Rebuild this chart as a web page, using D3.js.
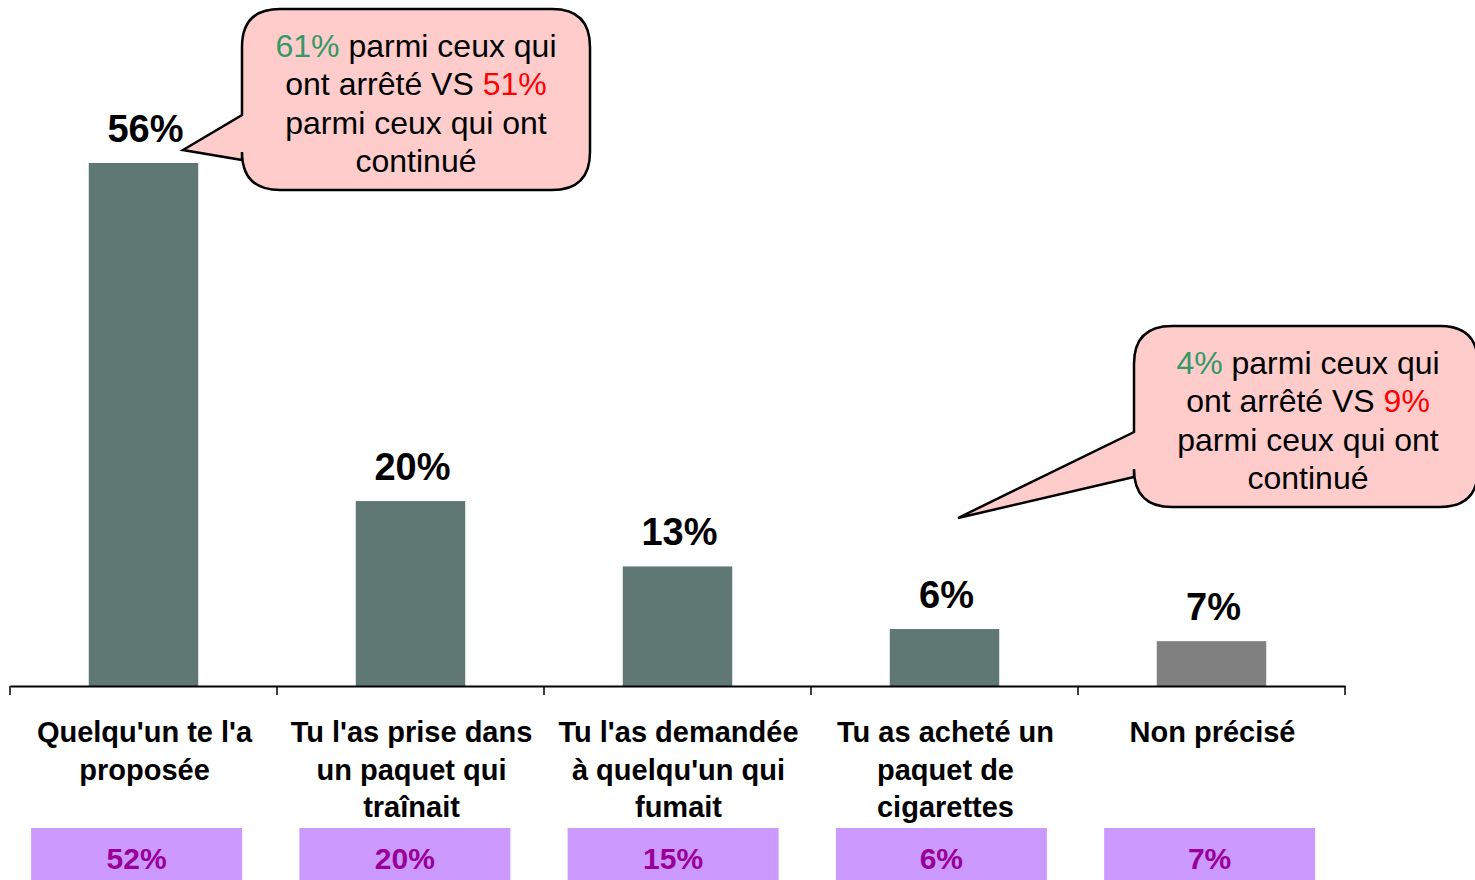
<!DOCTYPE html>
<html>
<head>
<meta charset="utf-8">
<script src="https://cdn.jsdelivr.net/npm/d3@7"></script>
<style>
  body { margin: 0; background: #fff; }
  svg { display: block; font-family: "Liberation Sans", Arial, sans-serif; }
</style>
</head>
<body>
<div id="chart"></div>
<script>
/*------Data------*/
var categories = [
  ["Quelqu'un te l'a", "proposée"],
  ["Tu l'as prise dans", "un paquet qui", "traînait"],
  ["Tu l'as demandée", "à quelqu'un qui", "fumait"],
  ["Tu as acheté un", "paquet de", "cigarettes"],
  ["Non précisé"]
];
// bar heights as drawn in the picture
var values = [56, 19.8, 12.8, 6.1, 4.8];
var valueLabels = ["56%", "20%", "13%", "6%", "7%"];
var boxLabels = ["52%", "20%", "15%", "6%", "7%"];
var barColors = ["#607874", "#607874", "#607874", "#607874", "#808080"];

var callouts = [
  { lines: [[["61%", "#339966"], [" parmi ceux qui", "#000"]],
            [["ont arrêté VS ", "#000"], ["51%", "#ff0000"]],
            [["parmi ceux qui ont", "#000"]],
            [["continué", "#000"]]] },
  { lines: [[["4%", "#339966"], [" parmi ceux qui", "#000"]],
            [["ont arrêté VS ", "#000"], ["9%", "#ff0000"]],
            [["parmi ceux qui ont", "#000"]],
            [["continué", "#000"]]] }
];

var width = 1475, height = 880;
var svg = d3.select("#chart").append("svg")
    .attr("width", width)
    .attr("height", height);

/*------Scales------*/
var x = d3.scaleBand()
    .domain(d3.range(categories.length))
    .range([10, 1345]);

// the purple boxes sit on a slightly different grid
var xBox = d3.scaleBand()
    .domain(d3.range(categories.length))
    .range([2.5, 1343.75]);

var y = d3.scaleLinear()
    .domain([0, 60])
    .range([686, 686 - 60 * 9.34]);

/*------Bars------*/
var barW = x.bandwidth() * 0.41;

svg.selectAll("rect.bar")
  .data(values)
  .enter()
  .append("rect")
    .attr("class", "bar")
    .attr("x", function(d, i) { return x(i) + x.bandwidth() / 2 - barW / 2; })
    .attr("y", function(d) { return y(d); })
    .attr("width", barW)
    .attr("height", function(d) { return y(0) - y(d); })
    .attr("fill", function(d, i) { return barColors[i]; });

svg.selectAll("text.val")
  .data(values)
  .enter()
  .append("text")
    .attr("class", "val")
    .attr("x", function(d, i) { return x(i) + x.bandwidth() / 2 + 2; })
    .attr("y", function(d) { return y(d) - 21; })
    .attr("text-anchor", "middle")
    .style("font-size", "38px")
    .style("font-weight", "bold")
    .text(function(d, i) { return valueLabels[i]; });

/*------Axis------*/
var axis = d3.axisBottom(x).tickSize(0).tickFormat("");
var gx = svg.append("g")
    .attr("transform", "translate(0," + y(0) + ")")
    .call(axis);
gx.select(".domain").attr("stroke", "#000").attr("stroke-width", 2);

var tickPos = d3.range(categories.length).map(function(i) { return x(i); }).concat([x.range()[1]]);
svg.selectAll("line.tick")
  .data(tickPos)
  .enter()
  .append("line")
    .attr("x1", function(d) { return d; })
    .attr("x2", function(d) { return d; })
    .attr("y1", y(0))
    .attr("y2", y(0) + 9)
    .attr("stroke", "#000")
    .attr("stroke-width", 1.5);

/*------Category labels------*/
var catText = svg.selectAll("text.cat")
  .data(categories)
  .enter()
  .append("text")
    .attr("class", "cat")
    .attr("text-anchor", "middle")
    .style("font-size", "29px")
    .style("font-weight", "bold");

catText.each(function(lines, i) {
  var t = d3.select(this);
  lines.forEach(function(l, j) {
    t.append("tspan")
      .attr("x", x(i) + x.bandwidth() / 2 + 1)
      .attr("y", 742 + j * 37.5)
      .text(l);
  });
});

/*------Bottom purple boxes------*/
svg.selectAll("rect.box")
  .data(boxLabels)
  .enter()
  .append("rect")
    .attr("class", "box")
    .attr("x", function(d, i) { return xBox(i) + xBox.bandwidth() / 2 - 105.5; })
    .attr("y", 828)
    .attr("width", 211)
    .attr("height", 60)
    .attr("fill", "#cc99ff");

svg.selectAll("text.box")
  .data(boxLabels)
  .enter()
  .append("text")
    .attr("class", "box")
    .attr("x", function(d, i) { return xBox(i) + xBox.bandwidth() / 2; })
    .attr("y", 869)
    .attr("text-anchor", "middle")
    .attr("fill", "#990099")
    .style("font-size", "30px")
    .style("font-weight", "bold")
    .text(function(d) { return d; });

/*------Callouts------*/
function calloutPath(x0, y0, x1, y1, r, ya, yb, tx, ty) {
  // rounded rectangle with a wedge leaving the left edge
  var p = d3.path();
  p.moveTo(x0 + r, y0);
  p.lineTo(x1 - r, y0);
  p.quadraticCurveTo(x1, y0, x1, y0 + r);
  p.lineTo(x1, y1 - r);
  p.quadraticCurveTo(x1, y1, x1 - r, y1);
  p.lineTo(x0 + r, y1);
  p.quadraticCurveTo(x0, y1, x0, y1 - r);
  p.lineTo(x0, yb);
  p.lineTo(tx, ty);
  p.lineTo(x0, ya);
  p.lineTo(x0, y0 + r);
  p.quadraticCurveTo(x0, y0, x0 + r, y0);
  p.closePath();
  return p.toString();
}

var calloutGeom = [
  { x0: 242, y0: 9, x1: 590, y1: 190, ya: 115, yb: 160, tx: 183, ty: 150, cx: 416, ty0: 57 },
  { x0: 1134, y0: 326, x1: 1478, y1: 507, ya: 432, yb: 477, tx: 958, ty: 518, cx: 1308, ty0: 374 }
];

callouts.forEach(function(c, k) {
  var g = calloutGeom[k];
  svg.append("path")
    .attr("d", calloutPath(g.x0, g.y0, g.x1, g.y1, 38, g.ya, g.yb, g.tx, g.ty))
    .attr("fill", "#ffcccc")
    .attr("stroke", "#000")
    .attr("stroke-width", 2.5)
    .attr("stroke-linejoin", "miter");

  var t = svg.append("text")
    .attr("text-anchor", "middle")
    .style("font-size", "32px");
  c.lines.forEach(function(line, j) {
    line.forEach(function(seg, s) {
      var sp = t.append("tspan")
        .attr("fill", seg[1])
        .style("white-space", "pre")
        .text(seg[0]);
      if (s === 0) sp.attr("x", g.cx).attr("y", g.ty0 + j * 38.3);
    });
  });
});
</script>
</body>
</html>
